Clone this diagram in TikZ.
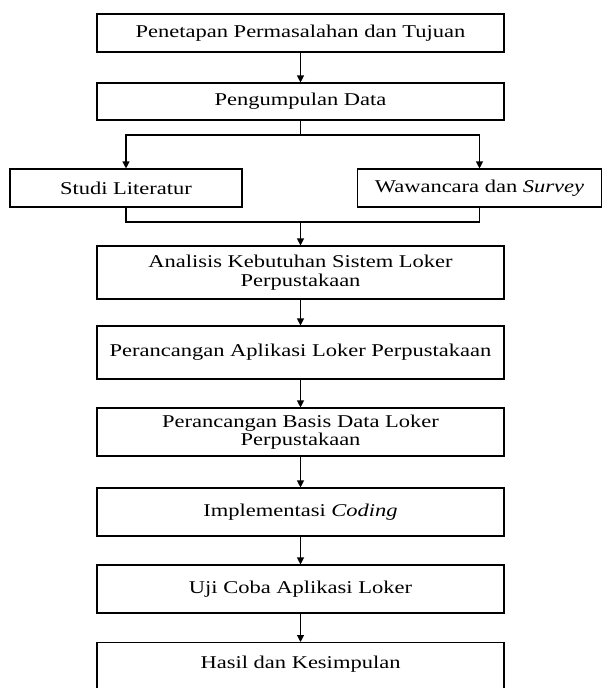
\documentclass[tikz,border=0pt]{standalone}
\usepackage{fontspec}
\setmainfont[FakeStretch=1.25,ItalicFont={Liberation Serif Italic}]{Liberation Serif}
\usetikzlibrary{arrows.meta}
\begin{document}
\begin{tikzpicture}[x=1pt,y=-1pt,
  box/.style={draw=black, line width=1.1pt, align=center, inner sep=0pt,
    font=\fontsize{18pt}{18.5pt}\selectfont},
  mainbox/.style={box, minimum width=407pt},
  sidebox/.style={box},
  arr/.style={line width=1.1pt, -{Triangle[length=7pt,width=7pt]}},
  ln/.style={line width=1.1pt}]
\useasboundingbox (0,0) rectangle (602,688);

\node[mainbox, minimum height=38pt] (b1) at (300.5,33) {Penetapan Permasalahan dan Tujuan};
\node[mainbox, minimum height=37pt] (b2) at (300.5,101.5) {Pengumpulan Data};
\node[sidebox, minimum width=232pt, minimum height=38pt] (studi) at (126,188) {Studi Literatur};
\node[sidebox, minimum width=244pt, minimum height=38pt] (waw) at (479.5,188) {Wawancara dan \textit{Survey}};
\node[mainbox, minimum height=53pt] (anal) at (300.5,272.5) {Analisis Kebutuhan Sistem Loker\\Perpustakaan};
\node[mainbox, minimum height=53pt] (apl) at (300.5,352.5) {Perancangan Aplikasi Loker Perpustakaan};
\node[mainbox, minimum height=48pt] (basis) at (300.5,432) {Perancangan Basis Data Loker\\Perpustakaan};
\node[mainbox, minimum height=48pt] (impl) at (300.5,512) {Implementasi \textit{Coding}};
\node[mainbox, minimum height=48pt] (uji) at (300.5,589) {Uji Coba Aplikasi Loker};
\node[mainbox, minimum height=54pt, anchor=north, text depth=14pt] (hasil) at (300.5,642) {Hasil dan Kesimpulan};

\coordinate (sp) at (300.5,135);
\coordinate (mg) at (300.5,222);

\draw[arr] (b1) -- (b2);
\draw[ln] (b2.south) -- (sp);
\draw[arr] (sp) -| (studi.north);
\draw[arr] (sp) -| (waw.north);
\draw[ln] (studi.south) |- (mg);
\draw[ln] (waw.south) |- (mg);
\draw[arr] (mg) -- (anal.north);
\draw[arr] (anal) -- (apl);
\draw[arr] (apl) -- (basis);
\draw[arr] (basis) -- (impl);
\draw[arr] (impl) -- (uji);
\draw[arr] (uji) -- (hasil);
\end{tikzpicture}
\end{document}
